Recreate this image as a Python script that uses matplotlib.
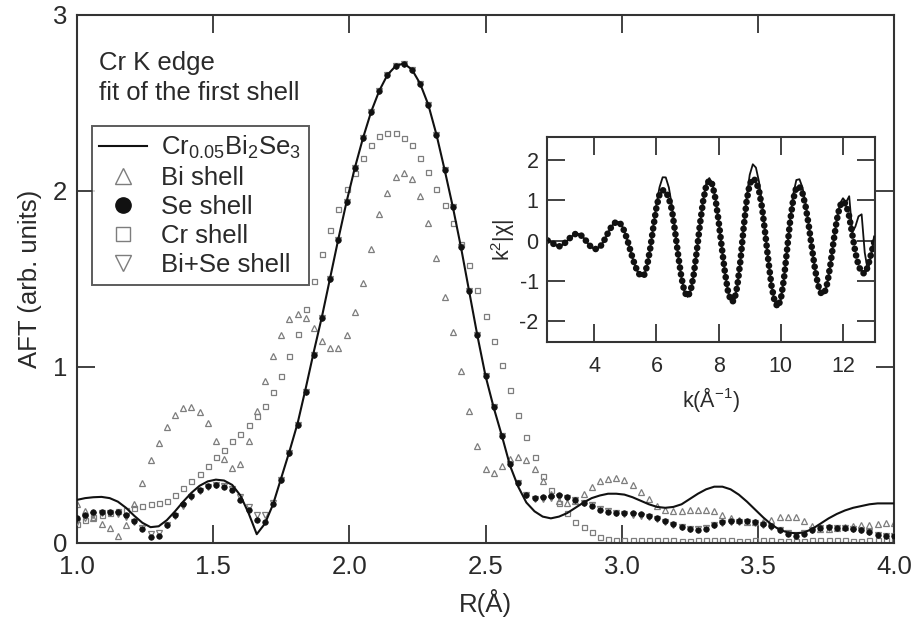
import numpy as np
import matplotlib
matplotlib.use("Agg")
import matplotlib.pyplot as plt
from matplotlib.lines import Line2D

plt.rcParams['font.family'] = ['Liberation Sans', 'DejaVu Sans']
plt.rcParams['mathtext.fontset'] = 'custom'
plt.rcParams['mathtext.rm'] = 'Liberation Sans'
plt.rcParams['mathtext.it'] = 'Liberation Sans:italic'
plt.rcParams['axes.unicode_minus'] = False

# ---------------- main panel data (R grid 1.00 .. 4.00, step 0.03) ----------------
R = np.linspace(1.0, 4.0, 101)

exp_line = [
    0.245, 0.255, 0.26, 0.262, 0.255, 0.235, 0.20, 0.155, 0.115, 0.09,
    0.095, 0.13, 0.18, 0.235, 0.285, 0.325, 0.35, 0.36, 0.355, 0.33,
    0.27, 0.17, 0.05, 0.11, 0.22, 0.37, 0.52, 0.68, 0.88, 1.09,
    1.29, 1.51, 1.73, 1.94, 2.13, 2.30, 2.45, 2.57, 2.66, 2.71,
    2.725, 2.69, 2.61, 2.49, 2.32, 2.12, 1.91, 1.68, 1.43, 1.18,
    0.95, 0.77, 0.61, 0.44, 0.32, 0.23, 0.18, 0.15, 0.14, 0.15,
    0.17, 0.20, 0.23, 0.255, 0.27, 0.28, 0.28, 0.275, 0.26, 0.24,
    0.22, 0.205, 0.20, 0.205, 0.22, 0.25, 0.28, 0.305, 0.32, 0.32,
    0.305, 0.275, 0.235, 0.19, 0.145, 0.105, 0.075, 0.06, 0.055, 0.06,
    0.08, 0.11, 0.14, 0.165, 0.185, 0.20, 0.21, 0.22, 0.225, 0.225,
    0.225]

bi_shell = [
    0.22, 0.18, 0.14, 0.11, 0.085, 0.04, 0.10, 0.22, 0.34, 0.47,
    0.57, 0.66, 0.73, 0.765, 0.775, 0.745, 0.68, 0.58, 0.48, 0.425,
    0.45, 0.58, 0.75, 0.92, 1.06, 1.18, 1.27, 1.30, 1.28, 1.22,
    1.15, 1.11, 1.11, 1.18, 1.31, 1.48, 1.67, 1.87, 1.99, 2.08,
    2.10, 2.07, 1.97, 1.82, 1.62, 1.40, 1.20, 0.98, 0.75, 0.55,
    0.42, 0.40, 0.44, 0.48, 0.49, 0.47, 0.42, 0.35, 0.28, 0.24,
    0.23, 0.24, 0.28, 0.32, 0.35, 0.365, 0.37, 0.36, 0.33, 0.29,
    0.25, 0.21, 0.19, 0.18, 0.18, 0.19, 0.19, 0.19, 0.18, 0.16,
    0.14, 0.13, 0.12, 0.12, 0.12, 0.13, 0.145, 0.15, 0.145, 0.125,
    0.095, 0.08, 0.08, 0.085, 0.09, 0.095, 0.10, 0.105, 0.11, 0.115,
    0.115]

se_shell = [
    0.14, 0.16, 0.175, 0.178, 0.178, 0.175, 0.16, 0.125, 0.08, 0.035,
    0.04, 0.10, 0.16, 0.22, 0.265, 0.30, 0.325, 0.33, 0.32, 0.30,
    0.245, 0.19, 0.13, 0.12, 0.22, 0.36, 0.51, 0.67, 0.86, 1.07,
    1.28, 1.50, 1.72, 1.94, 2.13, 2.30, 2.45, 2.57, 2.66, 2.71,
    2.72, 2.69, 2.61, 2.49, 2.32, 2.12, 1.91, 1.68, 1.43, 1.18,
    0.95, 0.77, 0.61, 0.45, 0.34, 0.27, 0.255, 0.26, 0.268, 0.27,
    0.26, 0.245, 0.23, 0.21, 0.19, 0.178, 0.17, 0.17, 0.17, 0.165,
    0.153, 0.14, 0.125, 0.11, 0.09, 0.08, 0.074, 0.082, 0.10, 0.118,
    0.125, 0.125, 0.125, 0.12, 0.11, 0.095, 0.075, 0.05, 0.037, 0.05,
    0.075, 0.085, 0.09, 0.088, 0.085, 0.082, 0.075, 0.06, 0.045, 0.037,
    0.037]

cr_shell = [
    0.11, 0.13, 0.15, 0.16, 0.17, 0.18, 0.19, 0.20, 0.21, 0.22,
    0.23, 0.24, 0.27, 0.31, 0.35, 0.39, 0.44, 0.49, 0.53, 0.58,
    0.62, 0.67, 0.72, 0.78, 0.86, 0.95, 1.06, 1.19, 1.33, 1.49,
    1.64, 1.78, 1.90, 2.01, 2.10, 2.19, 2.26, 2.31, 2.33, 2.33,
    2.30, 2.26, 2.19, 2.11, 2.01, 1.92, 1.82, 1.70, 1.58, 1.44,
    1.29, 1.15, 1.01, 0.87, 0.73, 0.60, 0.49, 0.38, 0.30, 0.23,
    0.17, 0.12, 0.09, 0.06, 0.035, 0.022, 0.018, 0.016, 0.015, 0.015,
    0.015, 0.016, 0.016, 0.015, 0.014, 0.014, 0.015, 0.016, 0.016, 0.015,
    0.015, 0.014, 0.014, 0.015, 0.016, 0.015, 0.014, 0.013, 0.013, 0.014,
    0.015, 0.016, 0.016, 0.015, 0.015, 0.014, 0.014, 0.015, 0.015, 0.015,
    0.015]

bise_shell = [
    0.12, 0.14, 0.16, 0.17, 0.17, 0.165, 0.15, 0.12, 0.085, 0.05,
    0.055, 0.10, 0.155, 0.21, 0.26, 0.295, 0.32, 0.33, 0.325, 0.305,
    0.26, 0.205, 0.16, 0.16, 0.23, 0.36, 0.51, 0.67, 0.86, 1.07,
    1.28, 1.50, 1.72, 1.94, 2.13, 2.30, 2.45, 2.57, 2.66, 2.71,
    2.72, 2.69, 2.61, 2.49, 2.32, 2.12, 1.91, 1.68, 1.43, 1.18,
    0.95, 0.77, 0.61, 0.45, 0.34, 0.27, 0.25, 0.25, 0.255, 0.26,
    0.255, 0.245, 0.23, 0.215, 0.195, 0.18, 0.17, 0.165, 0.16, 0.155,
    0.145, 0.135, 0.12, 0.105, 0.09, 0.08, 0.078, 0.085, 0.10, 0.115,
    0.12, 0.122, 0.12, 0.115, 0.105, 0.09, 0.072, 0.055, 0.045, 0.055,
    0.075, 0.085, 0.088, 0.087, 0.085, 0.08, 0.072, 0.06, 0.048, 0.04,
    0.04]

x_ticks = [1.0, 1.5, 2.0, 2.5, 3.0, 3.5, 4.0]
x_ticklabels = ['1.0', '1.5', '2.0', '2.5', '3.0', '3.5', '4.0']
y_ticks = [0, 1, 2, 3]

legend_labels = [r'Cr$_{\mathregular{0.05}}$Bi$_{\mathregular{2}}$Se$_{\mathregular{3}}$',
                 'Bi shell', 'Se shell', 'Cr shell', 'Bi+Se shell']

# ---------------- inset data (k grid 2.5 .. 13.0, step 0.1) ----------------
k = np.linspace(2.5, 13.0, 106)

chi_line = [
    0.0, -0.03, -0.09, -0.14, -0.145, -0.10, -0.03, 0.05, 0.12, 0.165,
    0.163, 0.113, 0.03, -0.076, -0.163, -0.212, -0.21, -0.145, -0.027, 0.125,
    0.277, 0.394, 0.462, 0.457, 0.356, 0.166, -0.08, -0.349, -0.596, -0.786,
    -0.887, -0.87, -0.63, -0.2, 0.35, 0.9, 1.325, 1.57, 1.567, 1.315,
    0.85, 0.256, -0.365, -0.9, -1.27, -1.4, -1.255, -0.84, -0.25, 0.40,
    0.99, 1.405, 1.55, 1.417, 1.04, 0.48, -0.16, -0.775, -1.256, -1.516,
    -1.50, -1.14, -0.515, 0.295, 1.055, 1.63, 1.893, 1.81, 1.456, 0.893,
    0.196, -0.503, -1.117, -1.508, -1.65, -1.468, -0.96, -0.242, 0.516, 1.15,
    1.502, 1.522, 1.31, 0.906, 0.39, -0.184, -0.706, -1.11, -1.32, -1.315,
    -1.05, -0.58, -0.006, 0.52, 0.913, 1.05, 0.95, 1.1, 0.2, 0.35,
    0.6, 0.65, -0.3, -0.75, -0.4, 0.1]

chi_dots = [
    0.0, -0.03, -0.09, -0.14, -0.145, -0.10, -0.03, 0.05, 0.12, 0.165,
    0.163, 0.113, 0.03, -0.076, -0.163, -0.212, -0.21, -0.145, -0.027, 0.125,
    0.277, 0.394, 0.462, 0.457, 0.356, 0.166, -0.08, -0.349, -0.596, -0.786,
    -0.887, -0.87, -0.63, -0.2, 0.33, 0.82, 1.15, 1.25, 1.22, 1.05,
    0.75, 0.22, -0.37, -0.9, -1.27, -1.4, -1.255, -0.84, -0.25, 0.40,
    0.97, 1.36, 1.50, 1.39, 1.03, 0.48, -0.16, -0.775, -1.256, -1.516,
    -1.50, -1.14, -0.515, 0.28, 0.98, 1.40, 1.54, 1.48, 1.24, 0.80,
    0.17, -0.503, -1.117, -1.508, -1.65, -1.468, -0.96, -0.242, 0.48, 1.02,
    1.32, 1.34, 1.17, 0.84, 0.37, -0.184, -0.706, -1.11, -1.32, -1.315,
    -1.05, -0.58, -0.006, 0.50, 0.86, 0.97, 0.90, 0.60, 0.15, -0.30,
    -0.62, -0.80, -0.82, -0.65, -0.35, -0.05]

k_ticks = [4, 6, 8, 10, 12]
chi_ticks = [-2, -1, 0, 1, 2]

# ---------------- styling ----------------
TXT = '#2a2a2a'
AX = '#333333'
GRAY = '#7d7d7d'
FS = 18.5

fig = plt.figure(figsize=(9.14, 6.19), dpi=100)
ax = fig.add_axes([77 / 914, 76 / 619, 817 / 914, 528 / 619])

ax.plot(R, cr_shell, ls='none', marker='s', ms=3.6, mfc='none', mec=GRAY, mew=0.9, zorder=2)
ax.plot(R, bi_shell, ls='none', marker='^', ms=4.2, mfc='none', mec=GRAY, mew=0.9, zorder=2)
ax.plot(R, bise_shell, ls='none', marker='v', ms=4.2, mfc='none', mec=GRAY, mew=0.9, zorder=3)
ax.plot(R, se_shell, ls='none', marker='o', ms=4.0, mfc='#111111', mec='#111111', mew=0.5, zorder=4)
ax.plot(R, exp_line, color='#111111', lw=1.5, zorder=5)

ax.set_xlim(1.0, 4.0)
ax.set_ylim(0, 3)
ax.set_xticks(x_ticks)
ax.set_xticklabels(x_ticklabels)
ax.set_yticks(y_ticks)
ax.tick_params(direction='in', length=13, width=1.3, color=AX, labelsize=FS,
               labelcolor=TXT, top=True, right=True)
ax.tick_params(axis='x', pad=9)
ax.tick_params(axis='y', pad=7)
for s in ax.spines.values():
    s.set_color(AX)
    s.set_linewidth(1.5)
ax.set_xlabel('R(Å)', fontsize=FS, color=TXT, labelpad=7)
ax.set_ylabel('AFT (arb. units)', fontsize=FS, color=TXT, labelpad=8)

fig.text(99 / 914, 1 - 63 / 619, 'Cr K edge', fontsize=FS, color=TXT, va='center', ha='left')
fig.text(99 / 914, 1 - 93 / 619, 'fit of the first shell', fontsize=FS, color=TXT, va='center', ha='left')

handles = [
    Line2D([], [], color='#111111', lw=1.5),
    Line2D([], [], ls='none', marker='^', ms=11, mfc='none', mec=GRAY, mew=1.0),
    Line2D([], [], ls='none', marker='o', ms=11, mfc='#111111', mec='#111111'),
    Line2D([], [], ls='none', marker='s', ms=10, mfc='none', mec=GRAY, mew=1.0),
    Line2D([], [], ls='none', marker='v', ms=11, mfc='none', mec=GRAY, mew=1.0),
]
leg = ax.legend(handles, legend_labels, loc='upper left', bbox_to_anchor=(0.018, 0.79),
                borderaxespad=0, fontsize=FS, frameon=True, fancybox=False,
                handlelength=1.85, handletextpad=0.55, labelspacing=0.2,
                borderpad=0.3, labelcolor=TXT)
leg.get_frame().set_edgecolor(AX)
leg.get_frame().set_linewidth(1.4)

# ---------------- inset ----------------
ins = fig.add_axes([547 / 914, (619 - 342) / 619, 328 / 914, 205 / 619])
ins.plot(k, chi_line, color='#111111', lw=1.3, zorder=3)
ins.plot(k, chi_dots, ls=(0, (0.01, 1.0)), lw=4.8, color='#111111',
         dash_capstyle='round', zorder=2)
ins.set_xlim(2.48, 13.03)
ins.set_ylim(-2.52, 2.57)
ins.set_xticks(k_ticks)
ins.set_yticks(chi_ticks)
ins.tick_params(direction='in', length=13, width=1.3, color=AX, labelsize=15.5,
                labelcolor=TXT, top=True, right=True)
ins.tick_params(axis='x', pad=10)
ins.tick_params(axis='y', pad=6)
for s in ins.spines.values():
    s.set_color(AX)
    s.set_linewidth(1.5)
ins.set_xlabel(r'k(Å$^{\mathregular{-1}}$)', fontsize=15.5, color=TXT, labelpad=6)
ins.set_ylabel(r'k$^{\mathregular{2}}$|χ|', fontsize=15.5, color=TXT, labelpad=2)

fig.savefig('out.png', dpi=100)
